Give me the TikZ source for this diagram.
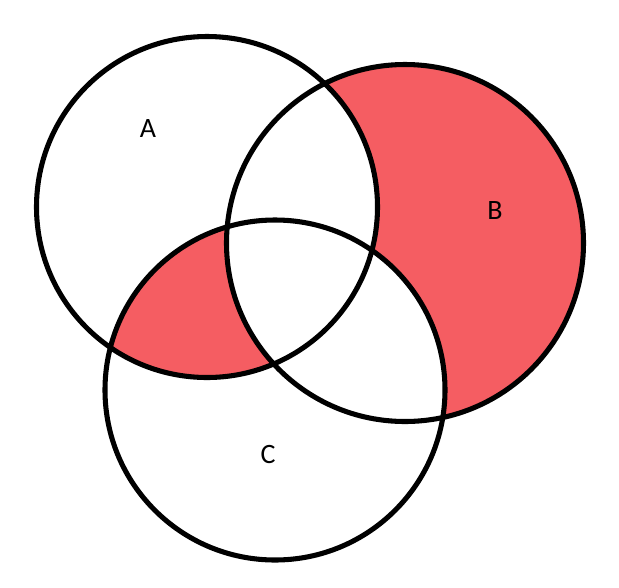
\documentclass[tikz,border=0pt]{standalone}
\usepackage{fontspec}
\setmainfont{Carlito}
\definecolor{vennred}{RGB}{245,93,98}
\tikzset{
  venn/.style={line width=3.8pt},
  lbl/.style={inner sep=0pt, font=\fontsize{21}{24}\selectfont}
}

\begin{document}
\begin{tikzpicture}[x=0.75pt,y=-0.75pt]
    \useasboundingbox (0,0) rectangle (619,587);
    \coordinate (cA) at (207,207);
    \coordinate (cB) at (405,243);
    \coordinate (cC) at (275,390);

    % B only
    \fill[vennred] (cB) circle (178.5);
    \fill[white] (cA) circle (170.5);
    \fill[white] (cC) circle (170);
    % A and C, not B
    \begin{scope}
        \clip (cA) circle (170.5);
        \clip (cC) circle (170);
        \fill[vennred] (cA) circle (170.5);
        \fill[white] (cB) circle (178.5);
    \end{scope}

    \draw[venn] (cA) circle (170.5);
    \draw[venn] (cB) circle (178.5);
    \draw[venn] (cC) circle (170);

    \node[lbl] (labA) at (148,129) {A};
    \node[lbl] (labB) at (495,211) {B};
    \node[lbl] (labC) at (268,455) {C};
\end{tikzpicture}
\end{document}
